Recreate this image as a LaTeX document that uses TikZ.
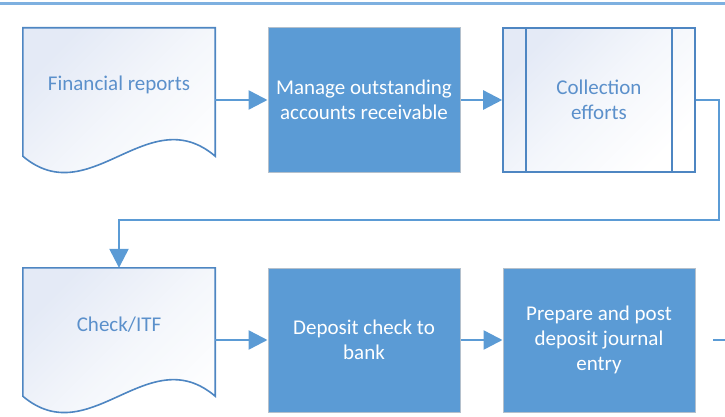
\documentclass[tikz,border=0pt]{standalone}
\usepackage{fontspec}
\setmainfont{Carlito}
\usetikzlibrary{arrows.meta}
\definecolor{boxfill}{HTML}{5B9BD5}
\definecolor{boxedge}{HTML}{B4C0CC}
\definecolor{docedge}{HTML}{4E86C2}
\definecolor{doctext}{HTML}{5B90CB}
\definecolor{docshade}{HTML}{E4EAF6}
\definecolor{conn}{HTML}{5B9BD5}
\definecolor{topline}{HTML}{7EB0E0}
\tikzset{
  procbox/.style={rectangle, draw=boxedge, line width=1pt, fill=boxfill, minimum width=192pt, minimum height=144pt, text=white, align=center, font=\fontsize{21}{25}\selectfont, inner sep=0pt},
  docarea/.style={rectangle, draw=none, minimum width=192pt, minimum height=144pt, inner sep=0pt},
  doctxt/.style={text=doctext, align=center, font=\fontsize{21}{25}\selectfont, inner sep=0pt},
  docline/.style={draw=docedge, line width=1.6pt, line join=miter},
  docshading/.style={top color=docshade, bottom color=white, middle color=white!60!docshade, shading angle=45},
  subbox/.style={rectangle, docline, docshading, minimum width=192pt, minimum height=144pt, text=doctext, align=center, font=\fontsize{21}{25}\selectfont, inner sep=0pt},
  arr/.style={draw=conn, line width=2.5pt, -{Triangle[length=19pt,width=19pt]}},
  plainconn/.style={draw=conn, line width=2.5pt}
}
\begin{document}
\begin{tikzpicture}[x=1pt,y=-1pt]
\useasboundingbox (0,0) rectangle (725,417);
% top rule
\coordinate (ruleA) at (0,3.5);
\coordinate (ruleB) at (725,3.5);
\draw[topline, line width=2.5pt] (ruleA) -- (ruleB);

% Financial reports document
\node[docarea] (fr) at (119,100) {};
\shade[docshading] (fr.north west) -- (fr.north east) -- ([yshift=16pt]fr.south east)
  .. controls (148,99) and (90,213) .. ([yshift=16pt]fr.south west) -- cycle;
\draw[docline] (fr.north west) -- (fr.north east) -- ([yshift=16pt]fr.south east)
  .. controls (148,99) and (90,213) .. ([yshift=16pt]fr.south west) -- cycle;
\node[doctxt] (frt) at (119,85) {Financial reports};

% Manage outstanding
\node[procbox] (mo) at (364,100) {Manage outstanding\\accounts receivable};

% Collection efforts
\node[subbox] (ce) at (599,100) {Collection\\efforts};
\draw[docline] ([xshift=24pt]ce.north west) -- ([xshift=24pt]ce.south west);
\draw[docline] ([xshift=-24pt]ce.north east) -- ([xshift=-24pt]ce.south east);

% Check/ITF document
\node[docarea] (ck) at (119,340) {};
\shade[docshading] (ck.north west) -- (ck.north east) -- ([yshift=16pt]ck.south east)
  .. controls (148,339) and (90,453) .. ([yshift=16pt]ck.south west) -- cycle;
\draw[docline] (ck.north west) -- (ck.north east) -- ([yshift=16pt]ck.south east)
  .. controls (148,339) and (90,453) .. ([yshift=16pt]ck.south west) -- cycle;
\node[doctxt] (ckt) at (119,325) {Check/ITF};

% Deposit check
\node[procbox] (dc) at (364,340) {Deposit check to\\bank};

% Prepare and post
\node[procbox] (pp) at (599,340) {Prepare and post\\deposit journal\\entry};

% connectors
\draw[arr] (fr.east) -- (mo.west);
\draw[arr] (mo.east) -- (ce.west);
\coordinate (bend1) at (719,220);
\draw[arr] (ce.east) -| (bend1) -| (ck.north);
\draw[arr] (ck.east) -- (dc.west);
\draw[arr] (dc.east) -- (pp.west);
\coordinate (outA) at (713,340);
\coordinate (outB) at (726,340);
\draw[plainconn] (outA) -- (outB);
\end{tikzpicture}
\end{document}
